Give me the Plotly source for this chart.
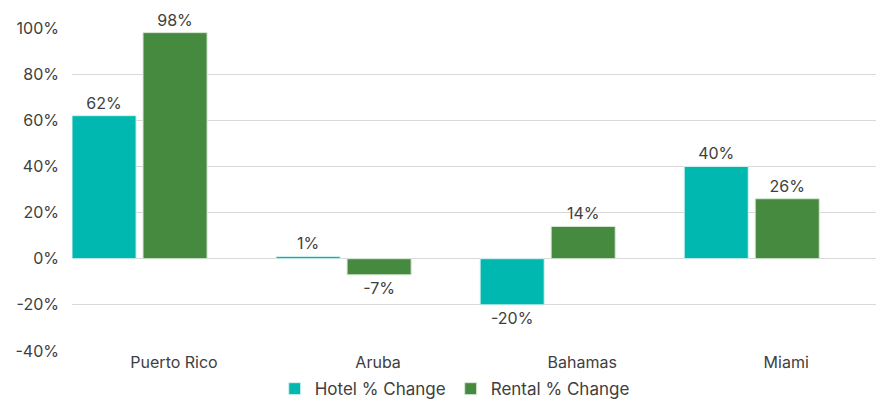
import plotly.graph_objects as go

categories = ["Puerto Rico", "Aruba", "Bahamas", "Miami"]
hotel = [62, 1, -20, 40]
rental = [98, -7, 14, 26]
y_ticks = [-40, -20, 0, 20, 40, 60, 80, 100]

font_family = "Inter, Open Sans, sans-serif"
txt_color = "#404040"

fig = go.Figure()
fig.add_trace(go.Bar(
    x=categories, y=hotel, name="Hotel % Change",
    marker=dict(color="#00B8B0", line=dict(color="#D8F2F0", width=1)),
    width=0.314, offset=-0.5,
    text=[f"{v}%" for v in hotel], textposition="outside",
    textfont=dict(size=16, color=txt_color, family=font_family),
    cliponaxis=False,
))
fig.add_trace(go.Bar(
    x=categories, y=rental, name="Rental % Change",
    marker=dict(color="#468A40", line=dict(color="#DCE8DA", width=1)),
    width=0.314, offset=-0.152,
    text=[f"{v}%" for v in rental], textposition="outside",
    textfont=dict(size=16, color=txt_color, family=font_family),
    cliponaxis=False,
))

fig.update_layout(
    width=876, height=401,
    margin=dict(l=72, r=0, t=28, b=50, autoexpand=False),
    plot_bgcolor="white", paper_bgcolor="white",
    barmode="overlay",
    font=dict(family=font_family, size=16, color=txt_color),
    showlegend=True,
    legend=dict(orientation="h", x=0.476, xanchor="center", y=-0.118, yanchor="middle",
                font=dict(size=17, color=txt_color), itemwidth=30, traceorder="normal"),
    xaxis=dict(range=[-0.5, 3.44], showgrid=False, zeroline=False, showline=False,
               ticks="", automargin=False, tickfont=dict(size=16, color=txt_color)),
    yaxis=dict(range=[-40, 100], tickvals=y_ticks, ticktext=[f"{v}%" for v in y_ticks],
               showgrid=True, gridcolor="#D9D9D9", gridwidth=1,
               zeroline=True, zerolinecolor="#D9D9D9", zerolinewidth=1,
               showline=False, ticks="", ticklabelstandoff=12, automargin=False,
               tickfont=dict(size=16, color=txt_color)),
)

fig.write_html("out.html", config={"displayModeBar": False},
               post_script="document.body.style.margin='0';")
